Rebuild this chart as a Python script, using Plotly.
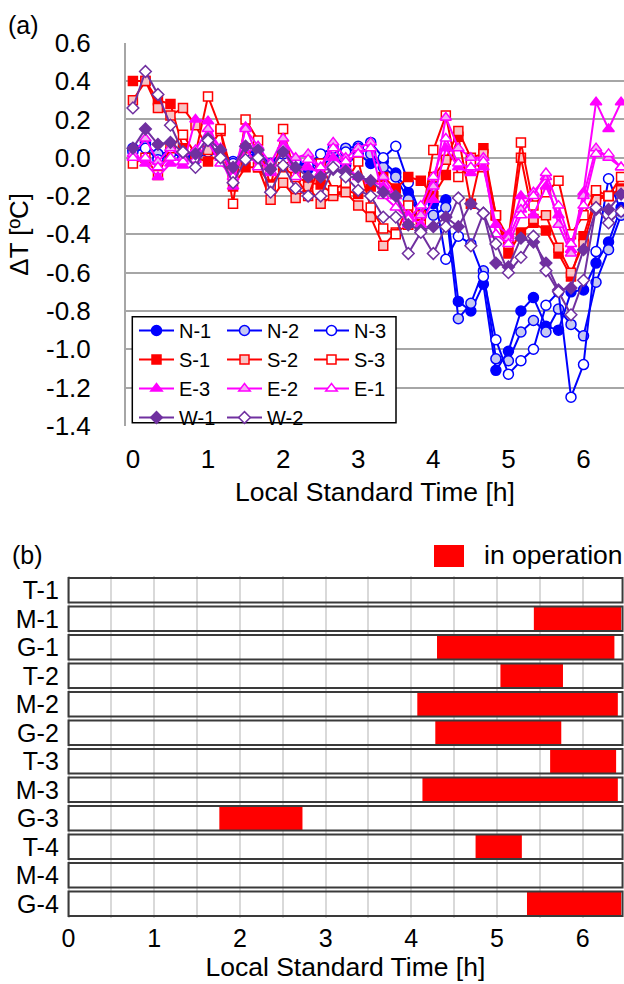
import plotly.graph_objects as go

W, H = 624, 984

# ---------------- data (a) ----------------
time_min = list(range(0, 400, 10))          # 0 .. 390 min, 10-min steps
time_h = [m / 60 for m in time_min]

N1 = [0.04, 0.08, 0.00, 0.04, 0.02, 0.00, 0.05, 0.02, -0.04, 0.05,
      0.01, -0.05, 0.03, -0.03, -0.06, -0.05, 0.01, -0.04, 0.02, -0.03,
      -0.02, -0.08, -0.18, -0.30, -0.24, -0.22, -0.75, -0.80, -0.66, -1.11,
      -1.01, -0.80, -0.73, -0.88, -0.90, -0.70, -0.69, -0.55, -0.44, -0.26]
N2 = [0.05, 0.06, 0.02, 0.03, 0.00, 0.01, 0.04, 0.03, -0.02, 0.04,
      0.02, -0.03, 0.04, -0.02, -0.05, -0.03, 0.03, 0.05, 0.06, 0.02,
      -0.05, -0.10, -0.22, -0.28, -0.30, -0.26, -0.84, -0.76, -0.59, -1.05,
      -1.06, -0.91, -0.85, -0.91, -0.79, -0.87, -0.93, -0.65, -0.48, -0.30]
N3 = [0.03, 0.05, -0.01, 0.02, 0.01, -0.01, 0.03, 0.01, -0.03, 0.03,
      0.00, -0.04, 0.02, -0.02, -0.04, 0.02, 0.05, 0.03, 0.05, 0.08,
      0.00, 0.06, -0.13, -0.30, -0.15, -0.53, -0.41, -0.45, -0.62, -0.95,
      -1.13, -1.06, -1.00, -0.77, -0.70, -1.25, -1.08, -0.49, -0.11, -0.28]
S1 = [0.40, 0.40, 0.30, 0.28, 0.05, 0.00, -0.02, 0.02, -0.15, -0.05,
      -0.05, -0.14, -0.05, -0.10, -0.13, -0.14, -0.19, -0.17, -0.19, -0.15,
      -0.10, -0.16, -0.10, -0.12, -0.20, -0.09, 0.11, -0.24, 0.05, -0.30,
      -0.50, -0.39, -0.34, -0.38, -0.50, -0.62, -0.41, -0.20, -0.20, -0.16]
S2 = [0.30, 0.40, 0.26, 0.22, 0.26, 0.17, 0.04, 0.14, -0.10, 0.05,
      -0.05, -0.22, -0.13, -0.21, -0.15, -0.24, -0.20, -0.18, -0.25, -0.31,
      -0.46, -0.39, -0.35, -0.30, -0.10, -0.01, 0.14, 0.00, 0.02, -0.30,
      -0.45, 0.00, -0.32, -0.30, -0.47, -0.60, -0.45, -0.22, -0.20, -0.17]
S3 = [-0.03, 0.00, -0.09, 0.05, 0.12, 0.02, 0.32, 0.15, -0.24, 0.20,
      0.09, -0.15, 0.15, -0.10, -0.20, -0.03, -0.17, -0.13, -0.02, -0.26,
      -0.37, -0.40, -0.25, -0.35, 0.04, 0.22, -0.10, -0.03, -0.05, -0.30,
      -0.42, 0.08, -0.25, -0.18, -0.12, -0.40, -0.30, -0.17, -0.20, -0.10]
E3 = [0.00, -0.03, -0.10, -0.03, -0.04, 0.20, 0.19, 0.00, -0.15, 0.16,
      0.00, -0.08, 0.06, -0.05, -0.05, -0.08, 0.00, -0.05, -0.10, -0.12,
      -0.15, -0.20, -0.30, -0.35, -0.22, 0.05, -0.05, -0.08, -0.05, -0.35,
      -0.40, -0.20, -0.30, -0.15, -0.30, -0.48, -0.18, 0.29, 0.15, 0.29]
E2 = [0.02, 0.10, -0.02, 0.05, 0.00, 0.04, 0.15, 0.05, -0.10, 0.15,
      0.06, -0.03, 0.10, 0.00, 0.02, -0.05, 0.08, 0.00, 0.05, 0.08,
      -0.10, -0.20, -0.35, -0.30, -0.15, 0.21, 0.05, 0.00, 0.00, -0.40,
      -0.42, -0.27, -0.18, -0.10, -0.35, -0.50, -0.20, 0.05, 0.00, -0.05]
E1 = [0.00, 0.00, -0.05, 0.00, -0.02, -0.01, 0.08, -0.03, -0.10, 0.05,
      -0.05, -0.07, 0.05, -0.10, -0.01, -0.05, 0.05, -0.02, 0.02, 0.05,
      -0.20, -0.26, -0.32, -0.25, -0.10, 0.10, -0.03, -0.05, -0.02, -0.40,
      -0.45, -0.30, -0.20, -0.08, -0.25, -0.45, -0.25, 0.02, 0.02, -0.05]
W1 = [0.05, 0.15, 0.07, 0.08, 0.03, 0.02, 0.10, 0.04, -0.05, 0.06,
      0.04, -0.06, 0.03, -0.05, -0.10, -0.10, -0.06, -0.07, -0.10, -0.12,
      -0.18, -0.20, -0.35, -0.38, -0.36, -0.31, -0.36, -0.24, -0.29, -0.55,
      -0.57, -0.42, -0.44, -0.55, -0.69, -0.68, -0.48, -0.27, -0.27, -0.19]
W2 = [0.26, 0.45, 0.33, 0.17, 0.03, -0.05, 0.09, 0.00, -0.13, -0.01,
      0.00, -0.18, -0.04, -0.16, -0.20, -0.20, -0.05, -0.10, -0.17, -0.20,
      -0.31, -0.31, -0.50, -0.39, -0.50, -0.36, -0.21, -0.46, -0.29, -0.45,
      -0.60, -0.52, -0.41, -0.59, -0.70, -0.82, -0.64, -0.26, -0.34, -0.28]

y_ticks = [0.6, 0.4, 0.2, 0.0, -0.2, -0.4, -0.6, -0.8, -1.0, -1.2, -1.4]
y_tick_text = ["0.6", "0.4", "0.2", "0.0", "-0.2", "-0.4", "-0.6", "-0.8", "-1.0", "-1.2", "-1.4"]
x_ticks = [0, 1, 2, 3, 4, 5, 6]

# ---------------- data (b) ----------------
units = ["T-1", "M-1", "G-1", "T-2", "M-2", "G-2", "T-3", "M-3", "G-3", "T-4", "M-4", "G-4"]
op_units = ["M-1", "G-1", "T-2", "M-2", "G-2", "T-3", "M-3", "G-3", "T-4", "G-4"]
op_start = [5.43, 4.30, 5.04, 4.07, 4.28, 5.62, 4.13, 1.76, 4.75, 5.35]
op_end = [6.45, 6.37, 5.77, 6.41, 5.75, 6.39, 6.41, 2.73, 5.29, 6.45]

# ---------------- styles ----------------
BLUE, RED, MAG, PUR = "#0000FF", "#FF0000", "#FF00FF", "#7030A0"
FONT = "Liberation Sans, Arial, sans-serif"

series = [
    ("N-1", N1, BLUE, "circle", BLUE, 10),
    ("N-2", N2, BLUE, "circle", "#C5C8F2", 10),
    ("N-3", N3, BLUE, "circle", "white", 10),
    ("S-1", S1, RED, "square", RED, 9),
    ("S-2", S2, RED, "square", "#F8C4C4", 9),
    ("S-3", S3, RED, "square", "white", 9),
    ("E-3", E3, MAG, "triangle-up", MAG, 10),
    ("E-2", E2, MAG, "triangle-up", "#F4A8F4", 10),
    ("E-1", E1, MAG, "triangle-up", "white", 10),
    ("W-1", W1, PUR, "diamond", PUR, 9),
    ("W-2", W2, PUR, "diamond", "white", 9),
]
legend_of = {"N-1": "legend", "S-1": "legend", "E-3": "legend", "W-1": "legend",
             "N-2": "legend2", "S-2": "legend2", "E-2": "legend2", "W-2": "legend2",
             "N-3": "legend3", "S-3": "legend3", "E-1": "legend3"}

fig = go.Figure()
for name, vals, col, sym, fill, size in series:
    fig.add_trace(go.Scatter(
        x=time_h, y=vals, name=name, mode="lines+markers",
        line=dict(color=col, width=2),
        marker=dict(symbol=sym, size=size, color=fill, line=dict(color=col, width=1.5)),
        xaxis="x", yaxis="y", legend=legend_of[name], showlegend=True,
    ))

# (b) operation bars, then row frames on top
fig.add_trace(go.Bar(
    y=op_units, x=[e - s for s, e in zip(op_start, op_end)], base=op_start,
    orientation="h", width=0.86, marker=dict(color=RED, line=dict(width=0)),
    xaxis="x2", yaxis="y2", showlegend=False,
))
X2_MIN, X2_MAX = -0.02, 6.482
frame_end = 6.465
fig.add_trace(go.Bar(
    y=units, x=[frame_end] * len(units), base=[0] * len(units),
    orientation="h", width=0.86,
    marker=dict(color="rgba(0,0,0,0)", line=dict(color="#3a3a3a", width=2)),
    xaxis="x2", yaxis="y2", showlegend=False,
))

def px_x(p):
    return p / W

def px_y(p):
    return 1 - p / H

legend_common = dict(font=dict(family=FONT, size=20, color="black"),
                     bgcolor="rgba(0,0,0,0)", borderwidth=0, itemwidth=35,
                     xanchor="left", yanchor="top", orientation="v",
                     tracegroupgap=0)

fig.update_layout(
    width=W, height=H,
    margin=dict(l=0, r=0, t=0, b=0, autoexpand=False),
    paper_bgcolor="white", plot_bgcolor="white",
    font=dict(family=FONT, color="black"),
    barmode="overlay",
    xaxis=dict(domain=[px_x(126), 1], range=[-0.092, 6.539], anchor="y",
               tickvals=x_ticks, tickfont=dict(size=26), showgrid=False,
               zeroline=False, showline=False, ticks="", automargin=False,
               ticklabelstandoff=15,
               title=dict(text="Local Standard Time [h]", font=dict(size=26.5), standoff=9)),
    yaxis=dict(domain=[px_y(426), px_y(42.7)], range=[-1.4005, 0.6005], anchor="x",
               tickvals=y_ticks, ticktext=y_tick_text, tickfont=dict(size=26),
               showgrid=True, gridcolor="#A6A6A6", gridwidth=2,
               showline=True, linecolor="#A6A6A6", linewidth=2,
               zeroline=False, ticks="", ticklabelstandoff=28, automargin=False,
               title=dict(text="ΔT [ºC]", font=dict(size=26), standoff=10)),
    xaxis2=dict(domain=[px_x(66.8), 1], range=[X2_MIN, X2_MAX], anchor="y2",
                tickvals=x_ticks, tickfont=dict(size=25), showgrid=True,
                gridcolor="#D9D9D9", gridwidth=1.5,
                minor=dict(dtick=0.5, showgrid=True, gridcolor="#D9D9D9", gridwidth=1.5),
                zeroline=False, showline=False, ticks="", ticklabelstandoff=3,
                automargin=False,
                title=dict(text="Local Standard Time [h]", font=dict(size=26.5), standoff=3)),
    yaxis2=dict(domain=[px_y(918), px_y(576)], anchor="x2", type="category",
                categoryarray=units, categoryorder="array", autorange="reversed",
                tickvals=units, tickfont=dict(size=25), showgrid=False, zeroline=False,
                showline=False, ticks="", ticklabelstandoff=7, automargin=False),
    legend=dict(x=px_x(134), y=px_y(311), **legend_common),
    legend2=dict(x=px_x(222), y=px_y(311), **legend_common),
    legend3=dict(x=px_x(309), y=px_y(311), **legend_common),
    shapes=[
        dict(type="rect", xref="paper", yref="paper",
             x0=px_x(132.3), x1=px_x(396), y0=px_y(422.7), y1=px_y(316.7),
             fillcolor="white", line=dict(color="black", width=1.5), layer="above"),
        dict(type="rect", xref="paper", yref="paper",
             x0=px_x(434), x1=px_x(464), y0=px_y(567), y1=px_y(545),
             fillcolor=RED, line=dict(width=0), layer="above"),
    ],
    annotations=[
        dict(text="(a)", xref="paper", yref="paper", x=px_x(6), y=px_y(25),
             xanchor="left", yanchor="middle", showarrow=False, font=dict(size=25)),
        dict(text="(b)", xref="paper", yref="paper", x=px_x(10), y=px_y(555),
             xanchor="left", yanchor="middle", showarrow=False, font=dict(size=25)),
        dict(text="in operation", xref="paper", yref="paper", x=px_x(482), y=px_y(555),
             xanchor="left", yanchor="middle", showarrow=False, font=dict(size=26.5)),
    ],
)

fig.write_html("out.html")
